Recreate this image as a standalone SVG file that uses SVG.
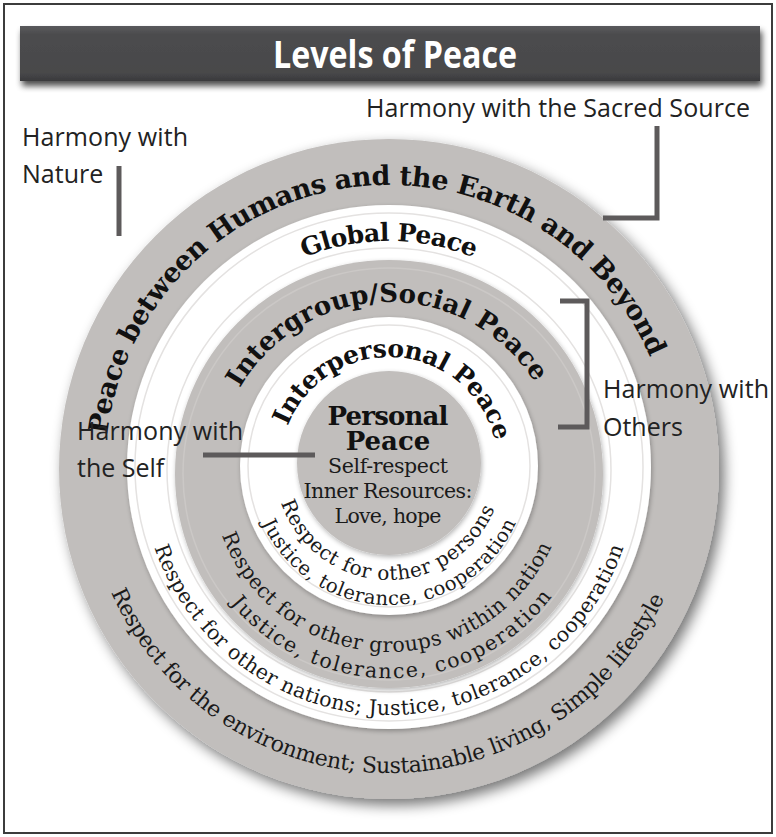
<svg xmlns="http://www.w3.org/2000/svg" width="776" height="837" viewBox="0 0 776 837">
<style>
.lbl{font-family:"Open Sans","Liberation Sans",sans-serif;font-size:25px;fill:#222}
.bold{font-family:"DejaVu Serif","Liberation Serif",serif;font-weight:bold;fill:#111}
.reg{font-family:"DejaVu Serif","Liberation Serif",serif;fill:#1a1a1a}
.gray{fill:#c1bebc}
.white{fill:#ffffff}
.conn{stroke:#5d5a5b;stroke-width:5;fill:none}
.faint{fill:none;stroke:#e4e2e1;stroke-width:1.5}
.faintg{fill:none;stroke:#cbc8c6;stroke-width:1.5}
</style>
<defs>
<filter id="sh" x="-20%" y="-20%" width="140%" height="140%">
<feGaussianBlur in="SourceAlpha" stdDeviation="7"/>
<feOffset dx="5" dy="6" result="b"/>
<feComponentTransfer><feFuncA type="linear" slope="0.55"/></feComponentTransfer>
<feMerge><feMergeNode/><feMergeNode in="SourceGraphic"/></feMerge>
</filter>
<filter id="sh2" x="-10%" y="-10%" width="120%" height="120%">
<feGaussianBlur in="SourceAlpha" stdDeviation="2.5"/>
<feOffset dx="1" dy="2" result="b"/>
<feComponentTransfer><feFuncA type="linear" slope="0.3"/></feComponentTransfer>
<feMerge><feMergeNode/><feMergeNode in="SourceGraphic"/></feMerge>
</filter>
<filter id="tsh" x="-5%" y="-30%" width="110%" height="170%">
<feGaussianBlur in="SourceAlpha" stdDeviation="3"/>
<feOffset dx="2" dy="5" result="b"/>
<feComponentTransfer><feFuncA type="linear" slope="0.7"/></feComponentTransfer>
<feMerge><feMergeNode/><feMergeNode in="SourceGraphic"/></feMerge>
</filter>
<linearGradient id="tg" x1="0" y1="0" x2="0" y2="1">
<stop offset="0" stop-color="#5a5a5c"/>
<stop offset="0.15" stop-color="#4c4c4e"/>
<stop offset="0.85" stop-color="#48484a"/>
<stop offset="1" stop-color="#3a3a3c"/>
</linearGradient>
<path id="pOuterTop" d="M188.2,669.8 A284,284 0 1 1 589.8,669.8"/>
<path id="pGlobalTop" d="M229.2,626.8 A226,226 0 1 1 548.8,626.8"/>
<path id="pInterTop" d="M267.4,595.6 A172,172 0 1 1 510.6,595.6"/>
<path id="pIPTop" d="M311.9,543.1 A109,109 0 1 1 466.1,543.1"/>
<path id="pOuterBot" d="M174,254 A304,304 0 1 0 604,254"/>
<path id="pGlobalBot" d="M213.6,291.6 A248,248 0 1 0 564.4,291.6"/>
<path id="pIGBot1" d="M263.1,348.1 A178,178 0 1 0 514.9,348.1"/>
<path id="pIGBot2" d="M244.8,329.8 A204,204 0 1 0 533.2,329.8"/>
<path id="pIPBot1" d="M308.4,385.4 A114,114 0 1 0 469.6,385.4"/>
<path id="pIPBot2" d="M290.7,367.7 A139,139 0 1 0 487.3,367.7"/>
</defs>

<rect x="0" y="0" width="776" height="837" fill="#ffffff"/>
<g id="frame"><rect x="4" y="4" width="768" height="829" fill="#ffffff" stroke="#3c3c3c" stroke-width="2"/></g>

<g id="title">
<rect x="20" y="26" width="740" height="55" fill="url(#tg)" filter="url(#tsh)"/>
<text x="395" y="68" font-family="'Open Sans','Liberation Sans',sans-serif" font-weight="bold" font-size="38" fill="#ffffff" text-anchor="middle" textLength="244" lengthAdjust="spacingAndGlyphs">Levels of Peace</text>
</g>

<g id="ring-earth">
<circle class="gray" cx="389" cy="469" r="330" filter="url(#sh)"/>
<text class="bold" font-size="27"><textPath href="#pOuterTop" startOffset="47%" text-anchor="middle" textLength="743">Peace between Humans and the Earth and Beyond</textPath></text>
<text class="reg" font-size="22"><textPath href="#pOuterBot" startOffset="49.8%" text-anchor="middle" textLength="695">Respect for the environment; Sustainable living, Simple lifestyle</textPath></text>
</g>

<g id="ring-global">
<circle class="white" cx="389" cy="467" r="262" filter="url(#sh2)"/>
<circle class="faint" cx="389" cy="467" r="254"/>
<circle class="faint" cx="389" cy="470" r="222"/>
<text class="bold" font-size="25"><textPath href="#pGlobalTop" startOffset="50%" text-anchor="middle" textLength="174">Global Peace</textPath></text>
<text class="reg" font-size="20.5"><textPath href="#pGlobalBot" startOffset="50%" text-anchor="middle" textLength="615">Respect for other nations; Justice, tolerance, cooperation</textPath></text>
</g>

<g id="ring-intergroup">
<circle class="gray" cx="389" cy="474" r="214" filter="url(#sh2)"/>
<circle class="faintg" cx="389" cy="474" r="206"/>
<text class="bold" font-size="26"><textPath href="#pInterTop" startOffset="49.6%" text-anchor="middle" textLength="354">Intergroup/Social Peace</textPath></text>
<text class="reg" font-size="20.5"><textPath href="#pIGBot1" startOffset="49.3%" text-anchor="middle" textLength="422">Respect for other groups within nation</textPath></text>
<text class="reg" font-size="20.5"><textPath href="#pIGBot2" startOffset="50.4%" text-anchor="middle" textLength="370">Justice, tolerance, cooperation</textPath></text>
</g>

<g id="ring-interpersonal">
<circle class="white" cx="389" cy="466" r="149" filter="url(#sh2)"/>
<circle class="faint" cx="389" cy="466" r="141"/>
<text class="bold" font-size="25"><textPath href="#pIPTop" startOffset="51.5%" text-anchor="middle" textLength="276">Interpersonal Peace</textPath></text>
<text class="reg" font-size="20"><textPath href="#pIPBot1" startOffset="49.4%" text-anchor="middle" textLength="277">Respect for other persons</textPath></text>
<text class="reg" font-size="19.5"><textPath href="#pIPBot2" startOffset="50%" text-anchor="middle" textLength="320">Justice, tolerance, cooperation</textPath></text>
</g>

<g id="personal">
<circle class="gray" cx="389" cy="463" r="92" filter="url(#sh2)"/>
<text class="bold" font-size="26" x="388" y="425" text-anchor="middle" textLength="121">Personal</text>
<text class="bold" font-size="26" x="388" y="450" text-anchor="middle">Peace</text>
<text class="reg" font-size="20.5" x="388" y="473" text-anchor="middle" textLength="120">Self-respect</text>
<text class="reg" font-size="20.5" x="388" y="498" text-anchor="middle" textLength="169">Inner Resources:</text>
<text class="reg" font-size="20.5" x="388" y="523" text-anchor="middle" textLength="107">Love, hope</text>
</g>

<g id="connectors">
<path class="conn" d="M119,166 V236"/>
<path class="conn" d="M657,126 V218 H603"/>
<path class="conn" d="M560,301 H587 V427 H558"/>
<path class="conn" d="M203,455 H315"/>
</g>

<g id="label-sacred"><text class="lbl" x="366" y="117" textLength="384">Harmony with the Sacred Source</text></g>
<g id="label-nature">
<text class="lbl" x="22" y="146" textLength="166">Harmony with</text>
<text class="lbl" x="22" y="183">Nature</text>
</g>
<g id="label-others">
<text class="lbl" x="603" y="398" textLength="166">Harmony with</text>
<text class="lbl" x="603" y="436">Others</text>
</g>
<g id="label-self">
<text class="lbl" x="77" y="440" textLength="166">Harmony with</text>
<text class="lbl" x="77" y="477">the Self</text>
</g>
</svg>
